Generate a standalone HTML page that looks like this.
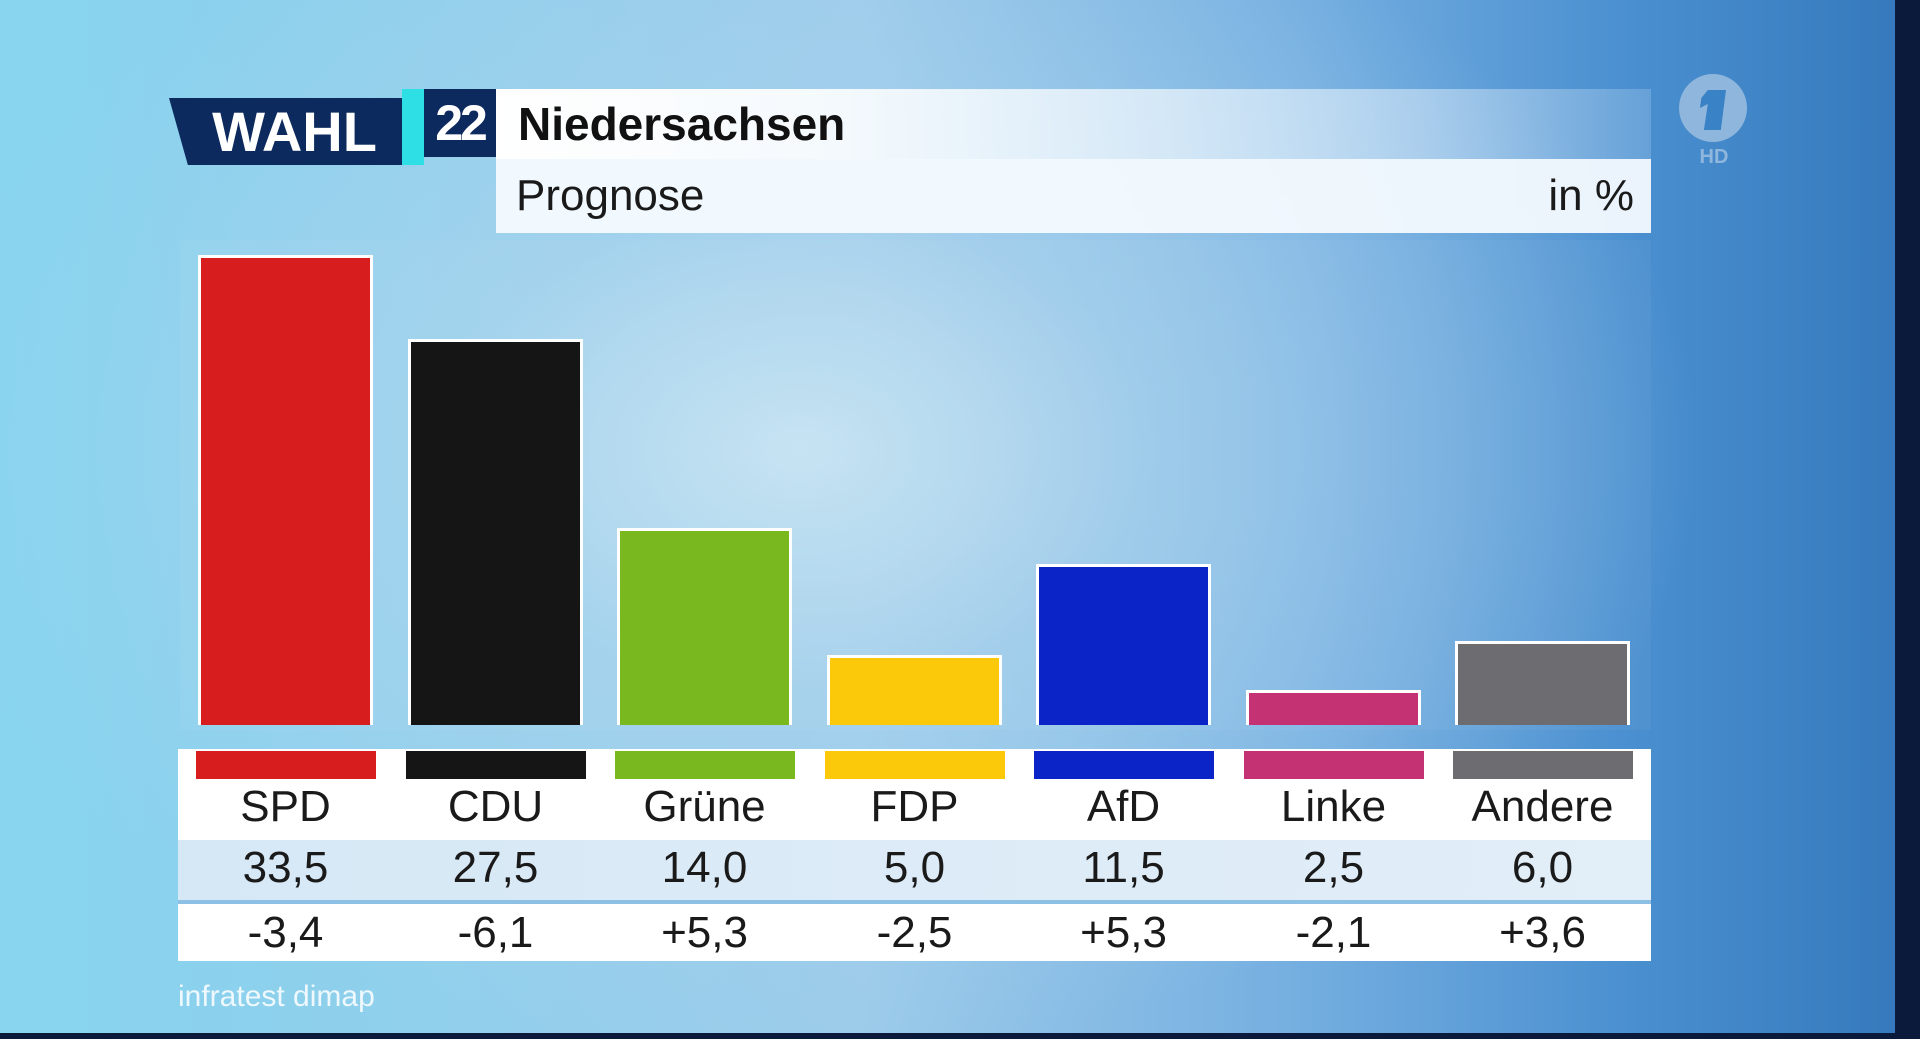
<!DOCTYPE html>
<html><head><meta charset="utf-8"><style>
*{margin:0;padding:0;box-sizing:border-box}
body{width:1920px;height:1039px;overflow:hidden;position:relative;font-family:"Liberation Sans",sans-serif;
background:radial-gradient(ellipse 900px 600px at 800px 450px,#c4e2f2 0%,rgba(170,212,238,0.6) 40%,rgba(120,180,230,0) 100%),linear-gradient(90deg,#86d2ee 0%,#8fd0ec 20%,#9ccbea 45%,#74aee0 68%,#4a8fd0 85%,#3478bb 100%);}
.abs{position:absolute}
.bar{position:absolute;width:175px;border:3px solid #fff;border-bottom:none;bottom:314px}
.strip{position:absolute;top:751px;height:28px;width:180px}
.t{position:absolute;width:209px;text-align:center;font-size:44px;color:#1a1a1a}
</style></head><body>
<div class="abs" style="left:0;top:0;width:215px;height:1035px;background:linear-gradient(90deg,rgba(140,215,240,0.5),rgba(140,215,240,0))"></div>
<div class="abs" style="left:1895px;top:0;width:25px;height:1039px;background:#0b1a3a"></div>
<div class="abs" style="left:0;top:1033px;width:1920px;height:6px;background:#0b1a3a"></div>
<div class="abs" style="left:169px;top:98px;width:236px;height:67px;background:#0d2a5e;clip-path:polygon(0 0,100% 0,100% 100%,8% 100%)"></div>
<div class="abs" style="left:187px;top:98px;width:215px;height:67px;color:#fff;font-weight:bold;font-size:56px;line-height:67px;text-align:center">WAHL</div>
<div class="abs" style="left:402px;top:89px;width:22px;height:76px;background:#2ee0e6"></div>
<div class="abs" style="left:424px;top:89px;width:72px;height:68px;background:#0d2a5e;color:#fff;font-weight:bold;font-size:50px;line-height:68px;text-align:center;letter-spacing:-3px">22</div>
<div class="abs" style="left:496px;top:89px;width:1155px;height:70px;background:linear-gradient(90deg,#fff 0%,#f4f9fd 30%,rgba(230,242,252,0.5) 80%,rgba(220,238,250,0.2) 100%)"></div>
<div class="abs" style="left:518px;top:89px;height:70px;line-height:70px;font-size:46px;font-weight:bold;color:#111">Niedersachsen</div>
<div class="abs" style="left:496px;top:159px;width:1155px;height:74px;background:rgba(248,252,255,0.93)"></div>
<div class="abs" style="left:516px;top:159px;height:74px;line-height:74px;font-size:44px;color:#1a1a1a">Prognose</div>
<div class="abs" style="left:1500px;top:159px;width:134px;height:74px;line-height:74px;font-size:44px;color:#1a1a1a;text-align:right">in %</div>
<div class="abs" style="left:1679px;top:74px;width:68px;height:68px;border-radius:50%;background:#8fb6dc"></div>
<div class="abs" style="left:1700px;top:90px;width:26px;height:40px;background:#3a82c6;clip-path:polygon(30% 0,100% 0,80% 100%,15% 100%,30% 35%,0 45%,5% 20%)"></div>
<div class="abs" style="left:1690px;top:146px;width:48px;text-align:center;color:#8fb6dc;font-weight:bold;font-size:20px">HD</div>
<div class="abs" style="left:180px;top:240px;width:1471px;height:490px;background:rgba(255,255,255,0.04)"></div>
<div class="bar" style="left:198px;height:470px;background:#d81d1f"></div>
<div class="bar" style="left:408px;height:386px;background:#151515"></div>
<div class="bar" style="left:617px;height:197px;background:#79b81e"></div>
<div class="bar" style="left:827px;height:70px;background:#fcc80a"></div>
<div class="bar" style="left:1036px;height:161px;background:#0a24c8"></div>
<div class="bar" style="left:1246px;height:35px;background:#c53274"></div>
<div class="bar" style="left:1455px;height:84px;background:#6d6d71"></div>
<div class="abs" style="left:178px;top:749px;width:1473px;height:212px;background:#fff"></div>
<div class="abs" style="left:178px;top:840px;width:1473px;height:60px;background:linear-gradient(90deg,#d6e8f6,#e2eef8)"></div>
<div class="abs" style="left:178px;top:900px;width:1473px;height:4px;background:#8cc0e4"></div>
<div class="strip" style="left:196px;background:#d81d1f"></div>
<div class="strip" style="left:406px;background:#151515"></div>
<div class="strip" style="left:615px;background:#79b81e"></div>
<div class="strip" style="left:825px;background:#fcc80a"></div>
<div class="strip" style="left:1034px;background:#0a24c8"></div>
<div class="strip" style="left:1244px;background:#c53274"></div>
<div class="strip" style="left:1453px;background:#6d6d71"></div>
<div class="t" style="left:181px;top:782px">SPD</div>
<div class="t" style="left:391px;top:782px">CDU</div>
<div class="t" style="left:600px;top:782px">Grüne</div>
<div class="t" style="left:810px;top:782px">FDP</div>
<div class="t" style="left:1019px;top:782px">AfD</div>
<div class="t" style="left:1229px;top:782px">Linke</div>
<div class="t" style="left:1438px;top:782px">Andere</div>
<div class="t" style="left:181px;top:843px">33,5</div>
<div class="t" style="left:391px;top:843px">27,5</div>
<div class="t" style="left:600px;top:843px">14,0</div>
<div class="t" style="left:810px;top:843px">5,0</div>
<div class="t" style="left:1019px;top:843px">11,5</div>
<div class="t" style="left:1229px;top:843px">2,5</div>
<div class="t" style="left:1438px;top:843px">6,0</div>
<div class="t" style="left:181px;top:908px">-3,4</div>
<div class="t" style="left:391px;top:908px">-6,1</div>
<div class="t" style="left:600px;top:908px">+5,3</div>
<div class="t" style="left:810px;top:908px">-2,5</div>
<div class="t" style="left:1019px;top:908px">+5,3</div>
<div class="t" style="left:1229px;top:908px">-2,1</div>
<div class="t" style="left:1438px;top:908px">+3,6</div>
<div class="abs" style="left:178px;top:980px;font-size:30px;color:#eef8fd">infratest dimap</div>
</body></html>
